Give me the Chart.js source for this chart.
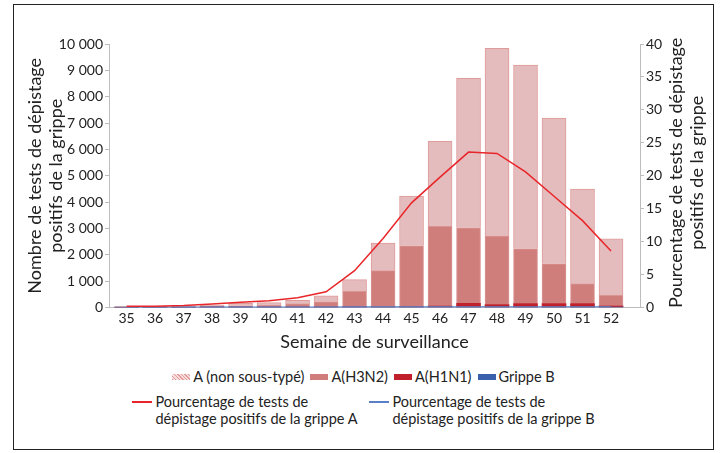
<!DOCTYPE html>
<html>
<head>
<meta charset="utf-8">
<script src="https://cdn.jsdelivr.net/npm/chart.js@4/dist/chart.umd.min.js"></script>
<style>
  body { margin: 0; background: #fff; font-family: Lato, sans-serif; }
  #frame { position: absolute; left: 13px; top: 4px; width: 701px; height: 446px; box-sizing: border-box; border: 1.5px solid #222; }
  #wrap { position: absolute; left: 0; top: 0; width: 720px; height: 360px; }
  #legend { position: absolute; left: 13px; top: 368px; width: 701px; color: #222; font-size: 14.5px; }
  .row { display: flex; justify-content: center; align-items: flex-start; }
  .item { display: flex; align-items: center; margin: 0 3px; }
  .row2 .item { align-items: flex-start; margin: 0 6px; }
  .sw { width: 18px; height: 6px; margin-right: 3px; }
  .ln { width: 20px; height: 2px; margin: 8px 3px 0 0; }
  .row2 { margin-top: 8px; line-height: 17px; }
</style>
</head>
<body>
<div id="frame"></div>
<div id="wrap"><canvas id="chart"></canvas></div>
<div id="legend"></div>
<script>
// Semaines de surveillance
var weeks = [35, 36, 37, 38, 39, 40, 41, 42, 43, 44, 45, 46, 47, 48, 49, 50, 51, 52];

// Nombre de tests positifs par type (empilés)
var grippeB    = [10, 10, 10, 15, 15, 15, 20, 20, 20, 20, 20, 20, 20, 20, 20, 20, 20, 20];
var aH1N1      = [0, 0, 0, 0, 0, 0, 0, 0, 5, 10, 20, 40, 145, 90, 130, 130, 130, 50];
var aH3N2      = [10, 10, 20, 30, 55, 70, 120, 210, 595, 1370, 2305, 3020, 2865, 2600, 2080, 1510, 750, 400];
var aNonTypes  = [20, 15, 30, 55, 95, 105, 140, 220, 440, 1045, 1885, 3230, 5665, 7126, 6970, 5526, 3600, 2140];

// Pourcentage de tests positifs
var pctA = [0.2, 0.2, 0.3, 0.55, 0.8, 1.05, 1.5, 2.4, 5.6, 10.5, 15.9, 19.8, 23.6, 23.4, 20.6, 16.9, 13.2, 8.6];
var pctB = [0.05, 0.05, 0.05, 0.05, 0.05, 0.05, 0.05, 0.05, 0.08, 0.08, 0.1, 0.1, 0.1, 0.1, 0.1, 0.1, 0.1, 0.1];

var leftTicks = [0, 1000, 2000, 3000, 4000, 5000, 6000, 7000, 8000, 9000, 10000];
var rightTicks = [0, 5, 10, 15, 20, 25, 30, 35, 40];

function pts(arr) {
  return weeks.map(function (w, i) { return {x: w, y: arr[i]}; });
}
function fmt(v) {
  return String(v).replace(/\B(?=(\d{3})+(?!\d))/g, ' ');
}

Chart.defaults.font.family = 'Lato, sans-serif';
Chart.defaults.color = '#222';

// titre de l'axe de droite, lu de bas en haut comme celui de gauche
var rightTitle = {
  id: 'rightTitle',
  afterDraw: function (chart) {
    var s = chart.scales.y2, ctx = chart.ctx, area = chart.chartArea;
    var lines = s.options.title.text;
    var cy = (area.top + area.bottom) / 2 - 3;
    ctx.save();
    ctx.font = '18px Lato, sans-serif';
    ctx.fillStyle = '#222';
    ctx.textAlign = 'center';
    ctx.textBaseline = 'middle';
    lines.forEach(function (t, i) {
      ctx.save();
      ctx.translate(s.left + 36 + i * 21, cy);
      ctx.rotate(-Math.PI / 2);
      ctx.fillText(t, 0, 0);
      ctx.restore();
    });
    ctx.restore();
  }
};

var chart = new Chart(document.getElementById('chart'), {
  data: {
    datasets: [
      {type: 'line', label: 'Pourcentage de tests de dépistage positifs de la grippe A', data: pts(pctA), yAxisID: 'y2',
       borderColor: '#e8262a', borderWidth: 1.5, pointRadius: 0, order: 0, legendText: ['Pourcentage de tests de', 'dépistage positifs de la grippe A']},
      {type: 'line', label: 'Pourcentage de tests de dépistage positifs de la grippe B', data: pts(pctB), yAxisID: 'y2',
       borderColor: '#5b7fc6', borderWidth: 1.5, pointRadius: 0, order: 0, legendText: ['Pourcentage de tests de', 'dépistage positifs de la grippe B']},
      {type: 'bar', label: 'Grippe B', data: pts(grippeB), backgroundColor: '#3a5fad', order: 1},
      {type: 'bar', label: 'A(H1N1)', data: pts(aH1N1), backgroundColor: '#c0202a', order: 1},
      {type: 'bar', label: 'A(H3N2)', data: pts(aH3N2), backgroundColor: '#d07e7b', borderColor: '#da9593', borderWidth: 1, order: 1},
      {type: 'bar', label: 'A (non sous-typé)', data: pts(aNonTypes), backgroundColor: '#e5bcbd', borderColor: '#df9a9a', borderWidth: 1, order: 1}
    ]
  },
  options: {
    responsive: true,
    maintainAspectRatio: false,
    animation: false,
    layout: {padding: {left: 23, right: 0, top: 44, bottom: 7}},
    datasets: {bar: {barThickness: 24}},
    plugins: {legend: {display: false}, tooltip: {enabled: false}},
    scales: {
      x: {
        type: 'linear', min: 34.9, max: 52.5, stacked: true,
        afterBuildTicks: function (s) { s.ticks = weeks.map(function (w) { return {value: w}; }); },
        ticks: {autoSkip: false, maxRotation: 0, font: {size: 14}, padding: 2, callback: function (v) { return v; }},
        grid: {display: false, drawTicks: false},
        border: {color: '#bdbdbd'},
        title: {display: true, text: 'Semaine de surveillance', font: {size: 18}, padding: {top: 3, bottom: 0}}
      },
      y: {
        position: 'left', stacked: true, min: 0, max: 10000,
        afterBuildTicks: function (s) { s.ticks = leftTicks.map(function (v) { return {value: v}; }); },
        afterFit: function (s) { s.width = 86; },
        ticks: {font: {size: 14}, padding: 2, callback: fmt},
        grid: {drawOnChartArea: false, tickLength: 4, color: '#bdbdbd'},
        border: {color: '#bdbdbd'},
        title: {display: true, text: ['Nombre de tests de dépistage', 'positifs de la grippe'], font: {size: 18, lineHeight: 1.17}, padding: 2}
      },
      y2: {
        position: 'right', min: 0, max: 40,
        afterBuildTicks: function (s) { s.ticks = rightTicks.map(function (v) { return {value: v}; }); },
        afterFit: function (s) { s.width = 80; },
        ticks: {font: {size: 14}, padding: 2},
        grid: {drawOnChartArea: false, tickLength: 4, color: '#bdbdbd'},
        border: {color: '#bdbdbd'},
        title: {display: false, text: ['Pourcentage de tests de dépistage', 'positifs de la grippe']}
      }
    }
  },
  plugins: [rightTitle]
});

// Légende HTML construite à partir des jeux de données
var sets = chart.data.datasets;
var row1Order = ['A (non sous-typé)', 'A(H3N2)', 'A(H1N1)', 'Grippe B'];
var legend = document.getElementById('legend');
var r1 = document.createElement('div'); r1.className = 'row';
row1Order.forEach(function (lbl) {
  var ds = sets.find(function (d) { return d.label === lbl; });
  var it = document.createElement('div'); it.className = 'item';
  var sw = document.createElement('span'); sw.className = 'sw';
  if (lbl === 'A (non sous-typé)') {
    sw.style.background = 'repeating-linear-gradient(45deg, #e79a9a 0 1px, #f6dede 1px 2.5px)';
  } else {
    sw.style.background = ds.backgroundColor;
  }
  it.appendChild(sw);
  it.appendChild(document.createTextNode(ds.label));
  r1.appendChild(it);
});
legend.appendChild(r1);
var r2 = document.createElement('div'); r2.className = 'row row2';
sets.filter(function (d) { return d.type === 'line'; }).forEach(function (ds) {
  var it = document.createElement('div'); it.className = 'item';
  var ln = document.createElement('span'); ln.className = 'ln'; ln.style.background = ds.borderColor;
  var tx = document.createElement('span'); tx.innerHTML = ds.legendText.join('<br>');
  it.appendChild(ln); it.appendChild(tx);
  r2.appendChild(it);
});
legend.appendChild(r2);
</script>
</body>
</html>
